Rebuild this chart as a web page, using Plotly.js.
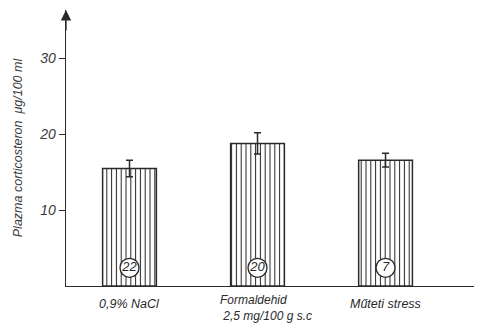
<!DOCTYPE html>
<html>
<head>
<meta charset="utf-8">
<script src="https://cdn.plot.ly/plotly-3.0.1.min.js"></script>
<style>
  html, body { margin: 0; padding: 0; background: #fff; }
  #chart { width: 480px; height: 326px; }
</style>
</head>
<body>
<div id="chart"></div>
<script>
// Plasma corticosterone by treatment group
const groups = ['0,9% NaCl', 'Formaldehid', 'Műteti stress'];
const groupSub = ['', '2,5 mg/100 g s.c', ''];
const meanValues = [15.5, 18.8, 16.6];
const semValues = [1.1, 1.4, 0.9];
const animalCounts = [22, 20, 7];
const yTicks = [10, 20, 30];

const ink = '#2a2a2a';
const fontFamily = 'Liberation Sans, Arial, sans-serif';
const xIdx = groups.map((_, i) => i);

const bars = {
  type: 'bar',
  x: xIdx,
  y: meanValues,
  width: 0.42,
  marker: {
    color: '#ffffff',
    line: { color: ink, width: 1.5 },
    pattern: { shape: '|', size: 4.8, solidity: 0.22, fgcolor: ink, bgcolor: '#ffffff', fillmode: 'replace' }
  },
  error_y: { type: 'data', array: semValues, visible: true, color: ink, thickness: 1.5, width: 3.5 },
  hoverinfo: 'skip'
};

const counts = {
  type: 'scatter',
  mode: 'markers+text',
  x: xIdx,
  y: xIdx.map(() => 2.4),
  text: animalCounts.map(String),
  textposition: 'middle center',
  textfont: { family: fontFamily, size: 13, color: ink, style: 'italic' },
  marker: { size: 19, color: '#ffffff', line: { color: ink, width: 1.3 } },
  hoverinfo: 'skip'
};

const annotations = [];
groups.forEach((g, i) => {
  const hasSub = !!groupSub[i];
  annotations.push({
    x: i, xref: 'x', y: 0, yref: 'y', yanchor: 'top',
    yshift: hasSub ? -6 : -10,
    xshift: hasSub ? 8 : 0,
    align: 'left',
    borderpad: 0,
    text: hasSub ? g + '<br>\u00a0' + groupSub[i] : g,
    showarrow: false,
    font: { family: fontFamily, size: hasSub ? 12 : 12.5, color: ink, style: 'italic' }
  });
});
// arrowhead at the top of the value axis
annotations.push({
  xref: 'paper', x: 0, yref: 'paper', y: 1,
  ax: 0, ay: 22, axref: 'pixel', ayref: 'pixel',
  showarrow: true, arrowhead: 2, arrowsize: 1.6, arrowwidth: 1.3, arrowcolor: ink,
  text: '', standoff: 0
});

const layout = {
  width: 480, height: 326,
  margin: { l: 66, r: 6, t: 10, b: 40 },
  paper_bgcolor: '#ffffff',
  plot_bgcolor: '#ffffff',
  showlegend: false,
  xaxis: {
    range: [-0.496, 2.691],
    showgrid: false, zeroline: false,
    showticklabels: false, ticks: '',
    showline: true, linecolor: ink, linewidth: 1.3
  },
  yaxis: {
    range: [0, 36.4],
    tickvals: yTicks,
    ticktext: yTicks.map(String),
    ticks: 'outside', ticklen: 6, tickwidth: 1.2, tickcolor: ink,
    tickfont: { family: fontFamily, size: 14, color: '#3a3a3a', style: 'italic' },
    showgrid: false, zeroline: false,
    showline: true, linecolor: ink, linewidth: 1.3,
    title: {
      text: 'Plazma corticosteron  μg/100 ml',
      font: { family: fontFamily, size: 12.5, color: '#3a3a3a', style: 'italic' },
      standoff: 14
    }
  },
  annotations: annotations
};

Plotly.newPlot('chart', [bars, counts], layout, { staticPlot: true, displayModeBar: false });
</script>
</body>
</html>
